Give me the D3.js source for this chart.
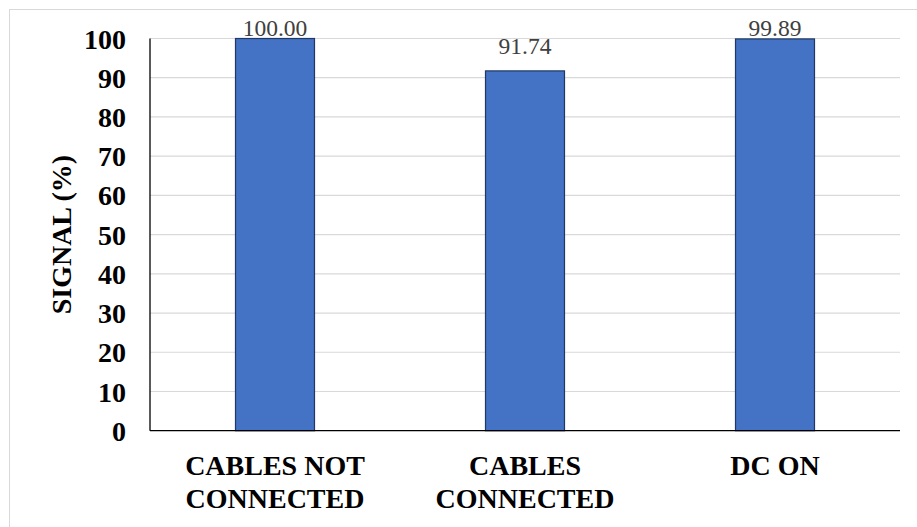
<!DOCTYPE html>
<html>
<head>
<meta charset="utf-8">
<script src="https://cdn.jsdelivr.net/npm/d3@7"></script>
<style>
  html, body { margin: 0; padding: 0; background: #fff; }
  svg { display: block; }
</style>
</head>
<body>
<svg id="chart" width="917" height="527"></svg>
<script>
// Signal level per test condition
const categories = [["CABLES NOT", "CONNECTED"], ["CABLES", "CONNECTED"], ["DC ON"]];
const values = [100.00, 91.74, 99.89];
const yTicks = [0, 10, 20, 30, 40, 50, 60, 70, 80, 90, 100];
const yTitle = "SIGNAL (%)";

const W = 917, H = 527;
const plot = { left: 150, right: 900, top: 38.5, bottom: 430.7 };
const serif = "Liberation Serif";

const svg = d3.select("#chart");

// chart frame
svg.append("rect")
  .attr("x", 9.5).attr("y", 9.5)
  .attr("width", W).attr("height", H)
  .attr("fill", "#fff")
  .attr("stroke", "#d9d9d9").attr("stroke-width", 1);

const keys = categories.map((c, i) => i);
const x = d3.scaleBand()
  .domain(keys)
  .range([plot.left, plot.right])
  .paddingInner(0.684)
  .paddingOuter(0.342);

const y = d3.scaleLinear()
  .domain([0, 100])
  .range([plot.bottom, plot.top]);

// horizontal gridlines
svg.append("g")
  .selectAll("line")
  .data(yTicks.filter(t => t > 0))
  .join("line")
  .attr("x1", plot.left).attr("x2", plot.right)
  .attr("y1", d => y(d)).attr("y2", d => y(d))
  .attr("stroke", "#d9d9d9").attr("stroke-width", 1.2);

// bars
svg.append("g")
  .selectAll("rect")
  .data(values)
  .join("rect")
  .attr("x", (d, i) => x(i))
  .attr("y", d => y(d))
  .attr("width", x.bandwidth())
  .attr("height", d => y(0) - y(d))
  .attr("fill", "#4472c4")
  .attr("stroke", "#1f3864")
  .attr("stroke-width", 1.2);

// value labels above bars, kept inside the frame
svg.append("g")
  .selectAll("text")
  .data(values)
  .join("text")
  .attr("x", (d, i) => x(i) + x.bandwidth() / 2)
  .attr("y", d => Math.max(y(d) - 17, 36))
  .attr("text-anchor", "middle")
  .attr("font-family", serif)
  .attr("font-size", 23.5)
  .attr("fill", "#404040")
  .text(d => d.toFixed(2));

// y axis
const yAxis = svg.append("g")
  .attr("transform", `translate(${plot.left},0)`)
  .call(d3.axisLeft(y).tickValues(yTicks).tickSize(0).tickPadding(24).tickFormat(d3.format("d")));
yAxis.attr("font-family", serif).attr("font-size", 28);
yAxis.select(".domain").remove();
yAxis.selectAll("text")
  .attr("font-weight", "bold")
  .attr("fill", "#000")
  .attr("dy", "0.34em");

// axis lines
svg.append("line")
  .attr("x1", plot.left).attr("x2", plot.left)
  .attr("y1", plot.top).attr("y2", plot.bottom)
  .attr("stroke", "#000").attr("stroke-width", 1.3);
svg.append("line")
  .attr("x1", plot.left).attr("x2", plot.right)
  .attr("y1", plot.bottom).attr("y2", plot.bottom)
  .attr("stroke", "#000").attr("stroke-width", 1.3);

// category labels
const xl = svg.append("g")
  .selectAll("text")
  .data(categories)
  .join("text")
  .attr("x", (d, i) => x(i) + x.bandwidth() / 2)
  .attr("y", 475)
  .attr("text-anchor", "middle")
  .attr("font-family", serif)
  .attr("font-size", 28)
  .attr("font-weight", "bold")
  .attr("fill", "#000");
xl.selectAll("tspan")
  .data((d, i) => d.map(line => ({ line, i })))
  .join("tspan")
  .attr("x", d => x(d.i) + x.bandwidth() / 2)
  .attr("dy", (d, j) => j === 0 ? 0 : 33)
  .text(d => d.line);

// y axis title
svg.append("text")
  .attr("transform", `translate(71,${(plot.top + plot.bottom) / 2}) rotate(-90)`)
  .attr("text-anchor", "middle")
  .attr("font-family", serif)
  .attr("font-size", 28)
  .attr("font-weight", "bold")
  .attr("fill", "#000")
  .text(yTitle);
</script>
</body>
</html>
